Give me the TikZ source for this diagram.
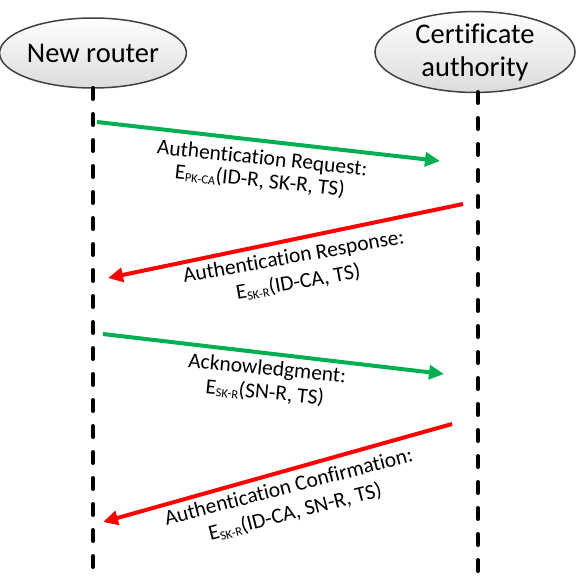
\documentclass[tikz,border=0pt]{standalone}
\usepackage{fontspec}
\setmainfont{Carlito}[Ligatures=NoCommon]
\usetikzlibrary{arrows.meta,shapes.geometric}
\definecolor{okgreen}{RGB}{0,176,80}
\definecolor{okred}{RGB}{255,0,0}
\newcommand{\sbs}[1]{\raisebox{-2.5pt}{\fontsize{12.5}{12.5}\selectfont #1}}
\begin{document}
\begin{tikzpicture}[x=1pt,y=-1pt,
  actor/.style={ellipse,draw=black!75,line width=1.5pt,top color=white,bottom color=black!14,inner sep=0pt,align=center,font=\fontsize{28.5}{33}\selectfont},
  life/.style={line width=4pt,line cap=round,dash pattern=on 11pt off 15pt},
  msg/.style={line width=4pt,-{Triangle[length=15pt,width=14pt]}},
  req/.style={msg,draw=okgreen,fill=okgreen},
  resp/.style={msg,draw=okred,fill=okred},
  lbl/.style={align=center,inner sep=0pt}]
\useasboundingbox (0,0) rectangle (581,578);
% actors
\node[actor,minimum width=170pt,minimum height=70pt] (nr) at (93,53) {New router};
\node[actor,minimum width=200pt,minimum height=78pt] (ca) at (475,52) {Certificate\\authority};
% lifeline ends
\coordinate (nrb) at (93,584);
\coordinate (cab) at (478,584);
\draw[life] (93,88) -- (nrb);
\draw[life] (478,92) -- (cab);
% message end points
\coordinate (a1s) at (97,122);  \coordinate (a1e) at (440,161);
\coordinate (a2s) at (463,204); \coordinate (a2e) at (108,278);
\coordinate (a3s) at (103,334); \coordinate (a3e) at (444,374);
\coordinate (a4s) at (452,424); \coordinate (a4e) at (103,522);
\draw[req] (a1s) -- (a1e);
\draw[resp] (a2s) -- (a2e);
\draw[req] (a3s) -- (a3e);
\draw[resp] (a4s) -- (a4e);
% labels
\node[lbl,rotate=-6,font=\fontsize{21.5}{22.5}\selectfont] (l1) at (261,170)
  {Authentication Request:\\E\sbs{PK-CA}(ID-R, SK-R, TS)};
\node[lbl,rotate=10,font=\fontsize{21.5}{26}\selectfont] (l2) at (296,270)
  {Authentication Response:\\E\sbs{SK-R}(ID-CA, TS)};
\node[lbl,rotate=-5.5,font=\fontsize{21.5}{24}\selectfont] (l3) at (266,381)
  {Acknowledgment:\\E\sbs{SK-R}(SN-R, TS)};
\node[lbl,rotate=14.5,font=\fontsize{21.5}{26}\selectfont] (l4) at (292,500)
  {Authentication Confirmation:\\E\sbs{SK-R}(ID-CA, SN-R, TS)};
\end{tikzpicture}
\end{document}
